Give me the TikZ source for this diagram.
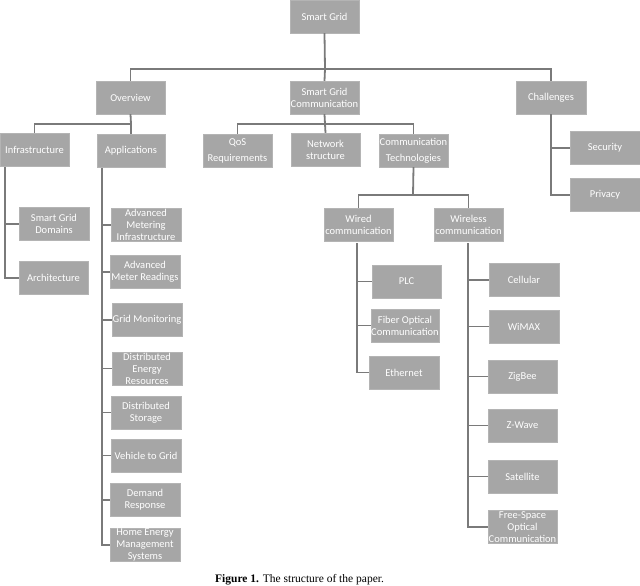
\documentclass[tikz,border=0pt]{standalone}
\usepackage{fontspec}
\setmainfont{Carlito}
\newfontfamily\capfont{Liberation Serif}
\definecolor{boxgray}{HTML}{A6A6A6}
\definecolor{linegray}{HTML}{7A7A7A}
\definecolor{edgegray}{HTML}{B4B4B4}
\begin{document}
\begin{tikzpicture}[x=1pt,y=-1pt,
  box/.style={fill=boxgray,draw=edgegray,line width=0.3pt,text=white,
    minimum width=70pt,minimum height=33pt,inner sep=0pt,align=center,
    font=\fontsize{10.5}{12}\selectfont},
  conn/.style={draw=linegray,line width=1.8pt,solid}]
\useasboundingbox (0,0) rectangle (640,586);
% nodes
\node[box,minimum width=69pt] (sg) at (324.5,16.5) {Smart Grid};
\node[box,minimum width=69pt] (ov) at (130.5,97.5) {Overview};
\node[box,minimum width=69pt] (sgc) at (324.5,97.5) {Smart Grid\\Communication};
\node[box] (ch) at (551,97.5) {Challenges};
\node[box,minimum width=69pt] (inf) at (34.5,149.5) {Infrastructure};
\node[box,minimum width=68pt] (app) at (131,150.5) {Applications};
\node[box,minimum width=69pt] (qos) at (237.5,150.5) {QoS\\[4pt]Requirements};
\node[box,minimum width=69pt] (net) at (325.5,149.5) {Network\\structure};
\node[box,minimum width=69pt] (ct) at (413.5,150.5) {Communication\\[4pt]Technologies};
\node[box] (sec) at (605,148) {Security};
\node[box] (pri) at (605,195) {Privacy};
\node[box] (sgd) at (54,224) {Smart Grid\\Domains};
\node[box,minimum width=69pt] (arch) at (53.5,278) {Architecture};
\node[box] (ami) at (146,225) {Advanced\\Metering\\Infrastructure};
\node[box] (amr) at (145,272) {Advanced\\Meter Readings};
\node[box] (gm) at (147,320) {Grid Monitoring};
\node[box] (der) at (147,368.5) {Distributed\\Energy\\Resources};
\node[box] (ds) at (146,412.5) {Distributed\\Storage};
\node[box] (v2g) at (146,455.5) {Vehicle to Grid};
\node[box] (dr) at (145,500) {Demand\\Response};
\node[box] (hem) at (145,545) {Home Energy\\Management\\Systems};
\node[box,minimum width=69pt] (wired) at (358.5,224.5) {Wired\\communication};
\node[box,minimum width=69pt] (wless) at (468.5,224.5) {Wireless\\communication};
\node[box,minimum width=69pt] (plc) at (406.5,281.5) {PLC};
\node[box,minimum width=68pt] (fib) at (405,325.5) {Fiber Optical\\Communication};
\node[box] (eth) at (404,372.5) {Ethernet};
\node[box] (cell) at (524,280) {Cellular};
\node[box] (wimax) at (524,326.5) {WiMAX};
\node[box,minimum width=69pt] (zig) at (522.5,376.5) {ZigBee};
\node[box,minimum width=69pt] (zw) at (522.5,425.5) {Z-Wave};
\node[box,minimum width=69pt] (sat) at (522.5,476.5) {Satellite};
\node[box,minimum width=69pt] (fso) at (522.5,527) {Free-Space\\Optical\\Communication};
% caption
\node[anchor=base west,inner sep=0pt,font=\capfont\fontsize{11.5}{13}\selectfont] (cap) at (215,582.5)
  {\textbf{Figure 1.} The structure of the paper.};
% bus coordinates
\coordinate (b0) at (325,69);
\coordinate (b1) at (131,124);
\coordinate (b2) at (325,124);
\coordinate (b3) at (413,195);
\coordinate (iv) at (5,167);
\coordinate (av) at (102,168);
\coordinate (wv) at (357,243);
\coordinate (wlv) at (468,243);
% connectors
\draw[conn] (sg.south) -- (b0);
\draw[conn] (ov.north) |- (b0) -| (ch.north);
\draw[conn] (b0) -- (sgc.north);
\draw[conn] (ov.south) -- (b1);
\draw[conn] (inf.north) |- (b1) -- (app.north);
\draw[conn] (sgc.south) -- (b2);
\draw[conn] (qos.north) |- (b2) -| (ct.north);
\draw[conn] (b2) -- (net.north);
\draw[conn] (ct.south) -- (b3);
\draw[conn] (wired.north) |- (b3) -| (wless.north);
\draw[conn] (ch.south) |- (pri.west);
\draw[conn] (sec.west) -- (sec.west -| ch.south);
\draw[conn] (iv) |- (arch.west);
\draw[conn] (sgd.west) -- (sgd.west -| iv);
\draw[conn] (av) |- (hem.west);
\foreach \n in {ami,amr,gm,der,ds,v2g,dr}
  \draw[conn] (\n.west) -- (\n.west -| av);
\draw[conn] (wv) |- (eth.west);
\foreach \n in {plc,fib}
  \draw[conn] (\n.west) -- (\n.west -| wv);
\draw[conn] (wlv) |- (fso.west);
\foreach \n in {cell,wimax,zig,zw,sat}
  \draw[conn] (\n.west) -- (\n.west -| wlv);
\end{tikzpicture}
\end{document}
